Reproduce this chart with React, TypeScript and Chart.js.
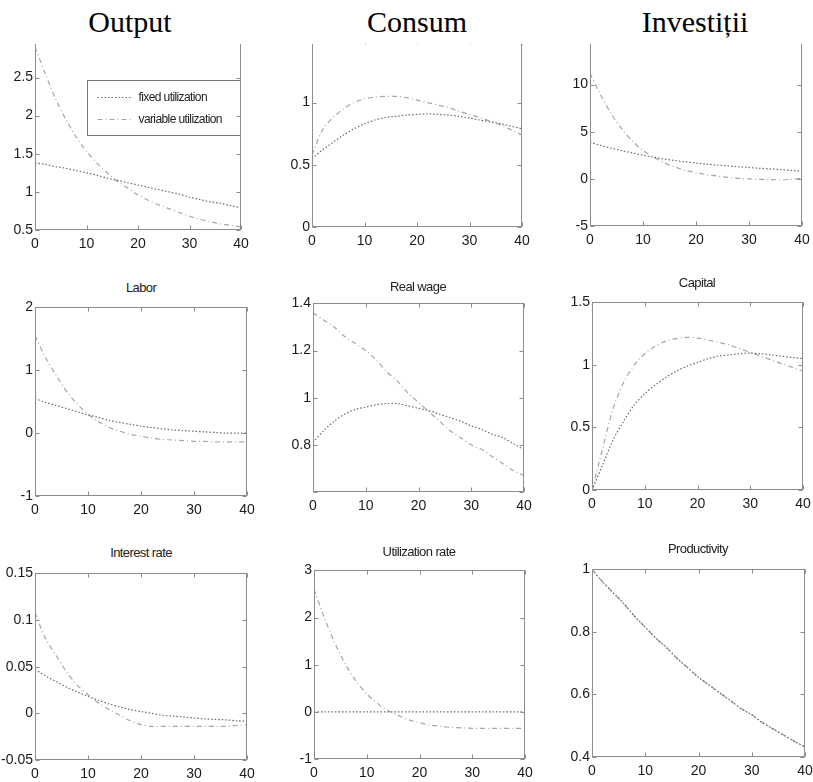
import React, { useEffect, useRef } from "react";
import { Chart, registerables } from "chart.js";

Chart.register(...registerables);

// ---------- DATA ----------
const periods = [0, 2, 4, 6, 8, 10, 12, 14, 16, 18, 20, 22, 24, 26, 28, 30, 32, 34, 36, 38, 40];
const seriesLabels = ["fixed utilization", "variable utilization"];
const xTicks = [0, 10, 20, 30, 40];

const outputFixed = [1.38, 1.36, 1.33, 1.31, 1.28, 1.25, 1.22, 1.18, 1.15, 1.12, 1.09, 1.06, 1.03, 1.0, 0.97, 0.93, 0.9, 0.87, 0.85, 0.82, 0.79];
const outputVariable = [2.9, 2.55, 2.22, 1.95, 1.72, 1.53, 1.38, 1.25, 1.14, 1.05, 0.96, 0.89, 0.83, 0.78, 0.73, 0.68, 0.64, 0.61, 0.58, 0.56, 0.54];

const consumFixed = [0.55, 0.62, 0.68, 0.74, 0.79, 0.83, 0.86, 0.88, 0.89, 0.9, 0.905, 0.91, 0.905, 0.9, 0.89, 0.875, 0.86, 0.845, 0.83, 0.81, 0.79];
const consumVariable = [0.58, 0.78, 0.88, 0.95, 1.0, 1.03, 1.045, 1.05, 1.05, 1.04, 1.02, 1.0, 0.98, 0.96, 0.93, 0.905, 0.88, 0.85, 0.82, 0.78, 0.74];

const investFixed = [3.9, 3.55, 3.25, 3.0, 2.75, 2.5, 2.3, 2.1, 1.95, 1.8, 1.68, 1.56, 1.46, 1.37, 1.28, 1.2, 1.12, 1.05, 0.98, 0.9, 0.82];
const investVariable = [11.2, 8.9, 6.9, 5.3, 4.0, 3.0, 2.3, 1.7, 1.25, 0.9, 0.65, 0.45, 0.3, 0.15, 0.05, 0.0, -0.05, -0.08, -0.1, -0.05, 0.05];

const laborFixed = [0.55, 0.49, 0.44, 0.39, 0.34, 0.29, 0.25, 0.2, 0.17, 0.14, 0.11, 0.09, 0.07, 0.05, 0.04, 0.03, 0.02, 0.01, 0.0, 0.0, 0.0];
const laborVariable = [1.55, 1.2, 0.92, 0.66, 0.46, 0.3, 0.18, 0.09, 0.03, -0.02, -0.05, -0.08, -0.1, -0.11, -0.12, -0.13, -0.13, -0.14, -0.14, -0.14, -0.14];

const wageFixed = [0.81, 0.86, 0.9, 0.93, 0.95, 0.96, 0.97, 0.975, 0.975, 0.965, 0.955, 0.945, 0.93, 0.915, 0.9, 0.88, 0.865, 0.845, 0.83, 0.805, 0.78];
const wageVariable = [1.36, 1.33, 1.3, 1.26, 1.23, 1.2, 1.16, 1.11, 1.07, 1.02, 0.98, 0.94, 0.9, 0.86, 0.83, 0.8, 0.78, 0.75, 0.72, 0.69, 0.67];

const capitalFixed = [0.0, 0.2, 0.4, 0.55, 0.68, 0.77, 0.84, 0.9, 0.95, 0.99, 1.02, 1.05, 1.07, 1.08, 1.09, 1.095, 1.09, 1.08, 1.07, 1.06, 1.05];
const capitalVariable = [0.0, 0.33, 0.65, 0.86, 1.0, 1.09, 1.15, 1.19, 1.21, 1.22, 1.215, 1.2, 1.18, 1.16, 1.13, 1.1, 1.07, 1.04, 1.01, 0.98, 0.95];

const interestFixed = [0.047, 0.04, 0.034, 0.028, 0.023, 0.018, 0.014, 0.01, 0.007, 0.004, 0.002, 0.0, -0.002, -0.003, -0.004, -0.005, -0.006, -0.0065, -0.007, -0.008, -0.0085];
const interestVariable = [0.108, 0.08, 0.062, 0.044, 0.03, 0.02, 0.011, 0.004, -0.002, -0.008, -0.012, -0.014, -0.014, -0.014, -0.014, -0.014, -0.014, -0.014, -0.014, -0.013, -0.012];

const utilFixed = [0, 0, 0, 0, 0, 0, 0, 0, 0, 0, 0, 0, 0, 0, 0, 0, 0, 0, 0, 0, 0];
const utilVariable = [2.6, 1.98, 1.45, 1.0, 0.65, 0.38, 0.18, 0.03, -0.08, -0.17, -0.23, -0.28, -0.31, -0.33, -0.34, -0.35, -0.35, -0.35, -0.35, -0.35, -0.35];

const prodFixed = [1.0, 0.96, 0.925, 0.89, 0.85, 0.815, 0.78, 0.75, 0.715, 0.685, 0.655, 0.63, 0.605, 0.58, 0.555, 0.535, 0.51, 0.49, 0.47, 0.45, 0.432];
const prodVariable = [1.0, 0.96, 0.925, 0.89, 0.85, 0.815, 0.78, 0.75, 0.715, 0.685, 0.655, 0.63, 0.605, 0.58, 0.555, 0.535, 0.51, 0.49, 0.47, 0.45, 0.432];

const bigTitles = ["Output", "Consum", "Investiții"];
const smallTitles = ["Labor", "Real wage", "Capital", "Interest rate", "Utilization rate", "Productivity"];

// ---------- LAYOUT ----------
type Spec = {
  L: number; T: number; R: number; B: number;
  yMin: number; yMax: number; yStep: number;
  fixed: number[]; variable: number[];
  legend?: boolean; hide?: number[];
};

const panels: Spec[] = [
  { L: 35, T: 39, R: 241, B: 230, yMin: 0.5, yMax: 3, yStep: 0.5, fixed: outputFixed, variable: outputVariable, legend: true, hide: [3] },
  { L: 312, T: 40, R: 522, B: 227, yMin: 0, yMax: 1.5, yStep: 0.5, fixed: consumFixed, variable: consumVariable },
  { L: 590, T: 37, R: 802, B: 226, yMin: -5, yMax: 15, yStep: 5, fixed: investFixed, variable: investVariable },
  { L: 35, T: 307, R: 247, B: 496, yMin: -1, yMax: 2, yStep: 1, fixed: laborFixed, variable: laborVariable },
  { L: 313, T: 303, R: 524, B: 492, yMin: 0.6, yMax: 1.4, yStep: 0.2, fixed: wageFixed, variable: wageVariable, hide: [0.6] },
  { L: 592, T: 302, R: 803, B: 490, yMin: 0, yMax: 1.5, yStep: 0.5, fixed: capitalFixed, variable: capitalVariable },
  { L: 35, T: 573, R: 247, B: 760, yMin: -0.05, yMax: 0.15, yStep: 0.05, fixed: interestFixed, variable: interestVariable },
  { L: 314, T: 570, R: 525, B: 759, yMin: -1, yMax: 3, yStep: 1, fixed: utilFixed, variable: utilVariable },
  { L: 592, T: 569, R: 805, B: 757, yMin: 0.4, yMax: 1, yStep: 0.2, fixed: prodFixed, variable: prodVariable },
];

const smallTitlePos = [
  { x: 141, y: 288 }, { x: 418, y: 287 }, { x: 697, y: 283 },
  { x: 141, y: 553 }, { x: 419, y: 552 }, { x: 698, y: 549 },
];
const bigTitlePos = [{ x: 130 }, { x: 417 }, { x: 695 }];

const PAD_L = 40, PAD_R = 16, PAD_T = 10, PAD_B = 26;
const FIXED_STYLE = { color: "#6a6a6a", dash: [1.5, 2] };
const VAR_STYLE = { color: "#a6a6a6", dash: [5, 3, 1, 3] };
const FRAME_COLOR = "#8c8c8c";
const TICK_FONT = { family: "'Liberation Sans', Arial, sans-serif", size: 14 };

const fmt = (v: number) => String(parseFloat(v.toFixed(4)));

const framePlugin = {
  id: "matlabFrame",
  afterDraw(chart: any) {
    const { ctx, chartArea, scales } = chart;
    const l = Math.round(chartArea.left) + 0.5;
    const r = Math.round(chartArea.right) - 0.5;
    const t = Math.round(chartArea.top) + 0.5;
    const b = Math.round(chartArea.bottom) - 0.5;
    ctx.save();
    ctx.strokeStyle = FRAME_COLOR;
    ctx.lineWidth = 1;
    ctx.setLineDash([]);
    ctx.strokeRect(l, t, r - l, b - t);
    const tl = 4;
    ctx.beginPath();
    scales.x.ticks.forEach((tk: any) => {
      const px = Math.round(scales.x.getPixelForValue(tk.value)) + 0.5;
      ctx.moveTo(px, b); ctx.lineTo(px, b - tl);
      ctx.moveTo(px, t); ctx.lineTo(px, t + tl);
    });
    scales.y.ticks.forEach((tk: any) => {
      const py = Math.round(scales.y.getPixelForValue(tk.value)) + 0.5;
      ctx.moveTo(l, py); ctx.lineTo(l + tl, py);
      ctx.moveTo(r, py); ctx.lineTo(r - tl, py);
    });
    ctx.stroke();
    ctx.restore();
  },
};

const legendPlugin = {
  id: "innerLegend",
  afterDatasetsDraw(chart: any) {
    const opts = chart.options.plugins.innerLegend;
    if (!opts || !opts.show) return;
    const { ctx, chartArea } = chart;
    const left = Math.round(chartArea.left) + 52.5;
    const right = Math.round(chartArea.right) - 0.5;
    const top = Math.round(chartArea.top) + 41.5;
    const bottom = top + 55;
    ctx.save();
    ctx.fillStyle = "#ffffff";
    ctx.fillRect(left, top, right - left, bottom - top);
    ctx.strokeStyle = "#777";
    ctx.lineWidth = 1;
    ctx.setLineDash([]);
    ctx.strokeRect(left, top, right - left, bottom - top);
    const rows = [top + 17, top + 39];
    chart.data.datasets.forEach((ds: any, i: number) => {
      ctx.strokeStyle = ds.borderColor;
      ctx.setLineDash(ds.borderDash || []);
      ctx.beginPath();
      ctx.moveTo(left + 10, rows[i]);
      ctx.lineTo(left + 43, rows[i]);
      ctx.stroke();
      ctx.setLineDash([]);
      ctx.fillStyle = "#222";
      ctx.font = "12px 'Liberation Sans', Arial, sans-serif";
      try { (ctx as any).letterSpacing = "-0.6px"; } catch (e) {}
      ctx.textBaseline = "middle";
      ctx.textAlign = "left";
      ctx.fillText(ds.label, left + 51, rows[i]);
    });
    ctx.restore();
  },
};

function Panel({ spec }: { spec: Spec }) {
  const ref = useRef<HTMLCanvasElement>(null);
  const w = spec.R - spec.L + PAD_L + PAD_R;
  const h = spec.B - spec.T + PAD_T + PAD_B;

  useEffect(() => {
    const toPts = (arr: number[]) => periods.map((x, i) => ({ x, y: arr[i] }));
    const chart = new Chart(ref.current as HTMLCanvasElement, {
      type: "line",
      data: {
        datasets: [
          {
            label: seriesLabels[0],
            data: toPts(spec.fixed),
            borderColor: FIXED_STYLE.color,
            borderDash: FIXED_STYLE.dash,
            borderWidth: 1.2,
            pointRadius: 0,
            tension: 0.3,
          },
          {
            label: seriesLabels[1],
            data: toPts(spec.variable),
            borderColor: VAR_STYLE.color,
            borderDash: VAR_STYLE.dash,
            borderWidth: 1.2,
            pointRadius: 0,
            tension: 0.3,
          },
        ],
      },
      options: {
        animation: false,
        responsive: false,
        layout: { padding: { left: 0, right: PAD_R, top: PAD_T, bottom: 0 } },
        plugins: {
          legend: { display: false },
          tooltip: { enabled: false },
          title: { display: false },
          innerLegend: { show: !!spec.legend },
        } as any,
        scales: {
          x: {
            type: "linear",
            min: 0,
            max: 40,
            afterBuildTicks: (s: any) => { s.ticks = xTicks.map((v) => ({ value: v })); },
            afterFit: (s: any) => { s.height = PAD_B; },
            grid: { display: false, drawTicks: false },
            border: { display: false },
            ticks: { font: TICK_FONT, color: "#1a1a1a", padding: 6, maxRotation: 0, autoSkip: false, callback: (v: any) => fmt(Number(v)) },
          },
          y: {
            type: "linear",
            min: spec.yMin,
            max: spec.yMax,
            afterFit: (s: any) => { s.width = PAD_L; },
            grid: { display: false, drawTicks: false },
            border: { display: false },
            ticks: {
              stepSize: spec.yStep,
              font: TICK_FONT,
              color: "#1a1a1a",
              padding: 2,
              autoSkip: false,
              callback: (v: any) => {
                const n = Number(v);
                if (spec.hide && spec.hide.some((hv) => Math.abs(hv - n) < 1e-9)) return "";
                return fmt(n);
              },
            },
          },
        },
      },
      plugins: [framePlugin, legendPlugin],
    });
    return () => chart.destroy();
  }, [spec]);

  return (
    <canvas
      ref={ref}
      width={w}
      height={h}
      style={{ position: "absolute", left: spec.L - PAD_L, top: spec.T - PAD_T, width: w, height: h }}
    />
  );
}

export default function App() {
  return (
    <div style={{ position: "absolute", left: 0, top: 0, width: 813, height: 782, background: "#fff", overflow: "hidden" }}>
      {panels.map((p, i) => (
        <Panel key={i} spec={p} />
      ))}
      <div style={{ position: "absolute", left: 0, top: 0, width: 813, height: 44, background: "#fff" }} />
      {bigTitles.map((t, i) => (
        <div
          key={t}
          style={{
            position: "absolute",
            left: bigTitlePos[i].x - 100,
            width: 200,
            top: 4,
            textAlign: "center",
            fontFamily: "'Liberation Serif', 'Times New Roman', serif",
            fontSize: 30,
            lineHeight: "36px",
            color: "#000",
          }}
        >
          {t}
        </div>
      ))}
      {smallTitles.map((t, i) => (
        <div
          key={t}
          style={{
            position: "absolute",
            left: smallTitlePos[i].x - 80,
            width: 160,
            top: smallTitlePos[i].y - 9,
            textAlign: "center",
            fontFamily: "'Liberation Sans', Arial, sans-serif",
            fontSize: 13,
            lineHeight: "18px",
            letterSpacing: "-0.6px",
            color: "#222",
          }}
        >
          {t}
        </div>
      ))}
    </div>
  );
}
